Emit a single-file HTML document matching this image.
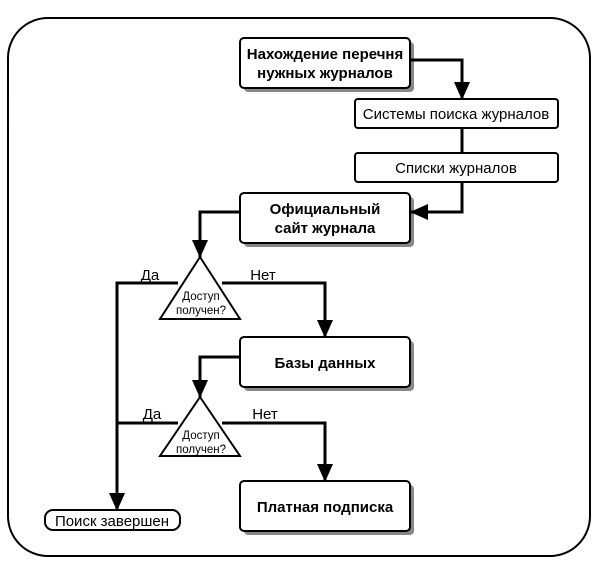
<!DOCTYPE html>
<html><head><meta charset="utf-8"><style>
body{margin:0;background:#fff;}
svg text{font-family:"Liberation Sans",Arial,sans-serif;fill:#000;}
</style></head><body>
<svg width="600" height="576" viewBox="0 0 600 576" xmlns="http://www.w3.org/2000/svg">
<defs><marker id="a" markerWidth="18" markerHeight="18" refX="17" refY="8" orient="auto" markerUnits="userSpaceOnUse"><path d="M0,0 L18,8 L0,16 Z" fill="#000"/></marker></defs>
<rect x="8" y="18" width="582" height="538" rx="40" fill="none" stroke="#000" stroke-width="2"/>
<g fill="#888">
<rect x="244" y="42" width="170" height="50" rx="4"/>
<rect x="244" y="197" width="170" height="50" rx="4"/>
<rect x="244" y="341" width="170" height="50" rx="4"/>
<rect x="244" y="485" width="170" height="50" rx="4"/>
</g>
<g fill="#fff" stroke="#000" stroke-width="2">
<rect x="240" y="38" width="170" height="50" rx="4"/>
<rect x="355" y="99" width="203" height="29" rx="3"/>
<rect x="355" y="153" width="203" height="29" rx="3"/>
<rect x="240" y="193" width="170" height="50" rx="4"/>
<rect x="240" y="337" width="170" height="50" rx="4"/>
<rect x="240" y="481" width="170" height="50" rx="4"/>
<rect x="45" y="510" width="135" height="20" rx="8"/>
<polygon points="200,257 240,319 160,319"/>
<polygon points="200,397 240,456 160,456"/>
</g>
<g fill="none" stroke="#000" stroke-width="3">
<polyline points="410,60 462,60 462,99" marker-end="url(#a)"/>
<line x1="462" y1="128" x2="462" y2="153"/>
<polyline points="462,182 462,212 411,212" marker-end="url(#a)"/>
<polyline points="240,212 200,212 200,257" marker-end="url(#a)"/>
<polyline points="178,283 117,283 117,510" marker-end="url(#a)"/>
<polyline points="222,283 325,283 325,337" marker-end="url(#a)"/>
<polyline points="240,357 200,357 200,397" marker-end="url(#a)"/>
<line x1="178" y1="423" x2="117" y2="423"/>
<polyline points="222,423 325,423 325,481" marker-end="url(#a)"/>
</g>
<g font-weight="bold" font-size="15" text-anchor="middle">
<text x="325" y="59">Нахождение перечня</text>
<text x="325" y="78">нужных журналов</text>
<text x="325" y="214">Официальный</text>
<text x="325" y="233">сайт журнала</text>
<text x="325" y="368">Базы данных</text>
<text x="325" y="512">Платная подписка</text>
</g>
<g font-size="15" text-anchor="middle">
<text x="456" y="119">Системы поиска журналов</text>
<text x="456" y="173">Списки журналов</text>
<text x="112" y="526">Поиск завершен</text>
<text x="150" y="280">Да</text>
<text x="263" y="280">Нет</text>
<text x="152" y="419">Да</text>
<text x="265" y="419">Нет</text>
</g>
<g font-size="11.5" text-anchor="middle">
<text x="201" y="300">Доступ</text>
<text x="201" y="314">получен?</text>
<text x="201" y="439">Доступ</text>
<text x="201" y="453">получен?</text>
</g>
</svg>
</body></html>
